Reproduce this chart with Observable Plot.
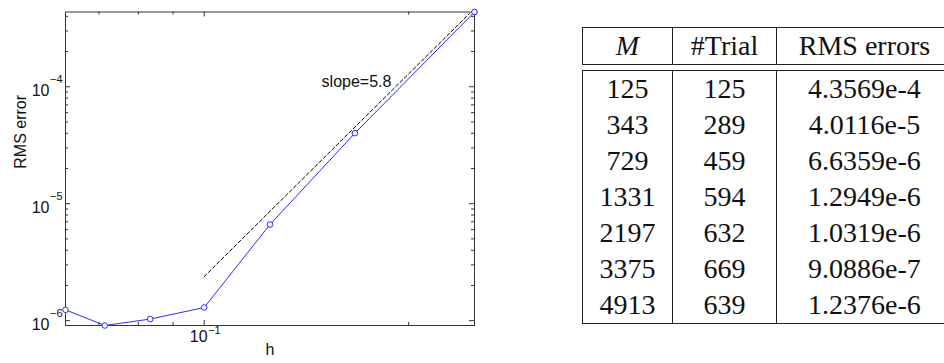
<!DOCTYPE html>
<html><head><meta charset="utf-8">
<script src="https://cdn.jsdelivr.net/npm/d3@7"></script>
<script src="https://cdn.jsdelivr.net/npm/@observablehq/plot@0.6"></script>
<style>
html,body{margin:0;padding:0;background:#fff;width:944px;height:363px;overflow:hidden;}
#wrap{position:relative;width:944px;height:363px;overflow:hidden;}
#chart{position:absolute;left:0;top:0;}
#tbl{position:absolute;left:582px;top:27px;width:371px;border-collapse:collapse;table-layout:fixed;}
#tbl td,#tbl th{font-family:"Liberation Serif","DejaVu Serif",serif;font-size:28px;color:#111;padding:0;text-align:center;font-weight:normal;border-left:1px solid #222;border-right:1px solid #222;height:36px;line-height:36px;white-space:nowrap;}
#tbl th{border-top:1px solid #222;border-bottom:1px solid #222;}
#tbl tr.gap td{border:none;height:5px;line-height:5px;}
#tbl tr.first td{border-top:1px solid #222;}
#tbl tr.last td{border-bottom:1px solid #222;}
</style></head>
<body><div id="wrap"><div id="chart"></div><table id="tbl"></table></div>
<script>
// ---- data ----
const M = [125, 343, 729, 1331, 2197, 3375, 4913];
const trials = [125, 289, 459, 594, 632, 669, 639];
const rmsLabels = ["4.3569e-4", "4.0116e-5", "6.6359e-6", "1.2949e-6", "1.0319e-6", "9.0886e-7", "1.2376e-6"];
const rmsErrors = [4.3569e-4, 4.0116e-5, 6.6359e-6, 1.2949e-6, 1.0319e-6, 9.0886e-7, 1.2376e-6];
const hValues = [0.25, 0.1667, 0.125, 0.1, 0.0833, 0.0714, 0.0625];
const tableHeaders = ["M", "#Trial", "RMS errors"];

const slopeH = [0.1, 0.2458];
const slopeErr = [2.38e-6, 4.23e-4];
const slopeLabel = "slope=5.8";
const slopeLabelH = 0.1489;
const slopeLabelErr = 1.09e-4;

const yMajor = [1e-6, 1e-5, 1e-4];
const yMajorExp = ["\u22126", "\u22125", "\u22124"];
const yMinor = [2e-6,3e-6,4e-6,5e-6,6e-6,7e-6,8e-6,9e-6,2e-5,3e-5,4e-5,5e-5,6e-5,7e-5,8e-5,9e-5,2e-4,3e-4,4e-4];
const xMajor = [0.1];
const xMajorExp = ["\u22121"];
const xMinor = [0.07, 0.08, 0.09, 0.2];
const xLabel = "h";
const yLabel = "RMS error";

// ---- chart ----
const W = 480, H = 363, mL = 65, mR = 6, mT = 11.5, mB = 38;
const iw = W - mL - mR, ih = H - mT - mB;
const axisColor = "#333";
const lineColor = "#2a2aff";
const FS = 16, FSX = 11;
const data = hValues.map((v, i) => ({h: v, err: rmsErrors[i]}));
const slopeData = slopeH.map((v, i) => ({h: v, err: slopeErr[i]}));
const majorLen = 5, minorLen = 3;

const chart = Plot.plot({
  width: W, height: H,
  marginLeft: mL, marginRight: mR, marginTop: mT, marginBottom: mB,
  x: {type: "log", domain: d3.extent(hValues), axis: null},
  y: {type: "log", domain: d3.extent(rmsErrors), axis: null},
  style: {fontFamily: "'Liberation Sans', Arial, sans-serif", background: "white", color: "#111"},
  marks: [
    Plot.tickY(yMajor, {y: d => d, insetRight: iw - majorLen, stroke: axisColor}),
    Plot.tickY(yMajor, {y: d => d, insetLeft: iw - majorLen, stroke: axisColor}),
    Plot.tickY(yMinor, {y: d => d, insetRight: iw - minorLen, stroke: axisColor}),
    Plot.tickY(yMinor, {y: d => d, insetLeft: iw - minorLen, stroke: axisColor}),
    Plot.tickX(xMajor, {x: d => d, insetTop: ih - majorLen, stroke: axisColor}),
    Plot.tickX(xMajor, {x: d => d, insetBottom: ih - majorLen, stroke: axisColor}),
    Plot.tickX(xMinor, {x: d => d, insetTop: ih - minorLen, stroke: axisColor}),
    Plot.tickX(xMinor, {x: d => d, insetBottom: ih - minorLen, stroke: axisColor}),
    Plot.frame({stroke: axisColor}),
    Plot.line(slopeData, {x: "h", y: "err", stroke: "black", strokeWidth: 1, strokeDasharray: "3.5,2.5"}),
    Plot.text([slopeLabel], {x: () => slopeLabelH, y: () => slopeLabelErr, text: d => d, textAnchor: "start", fontSize: FS, fill: "#111"}),
    Plot.line(data, {x: "h", y: "err", stroke: lineColor, strokeWidth: 1}),
    Plot.dot(data, {x: "h", y: "err", r: 2.8, stroke: lineColor, strokeWidth: 1, fill: "white"}),
    Plot.text(yMajor, {y: d => d, frameAnchor: "left", text: () => "10", textAnchor: "end", dx: -16, dy: 4, fontSize: FS, fill: "#111"}),
    Plot.text(yMajor, {y: d => d, frameAnchor: "left", text: (d, i) => yMajorExp[i], textAnchor: "end", dx: -3, dy: -7.5, fontSize: FSX, fill: "#111"}),
    Plot.text(xMajor, {x: d => d, frameAnchor: "bottom", text: () => "10", textAnchor: "end", dx: 3.5, dy: 16, fontSize: FS, fill: "#111"}),
    Plot.text(xMajor, {x: d => d, frameAnchor: "bottom", text: (d, i) => xMajorExp[i], textAnchor: "start", dx: 4, dy: 8, fontSize: FSX, fill: "#111"}),
    Plot.text([xLabel], {frameAnchor: "bottom", text: d => d, dy: 29.5, fontSize: FS, fill: "#111"}),
    Plot.text([yLabel], {frameAnchor: "left", text: d => d, rotate: -90, dx: -45, fontSize: FS, fill: "#111"})
  ]
});
document.getElementById("chart").appendChild(chart);

// ---- table ----
const tbl = document.getElementById("tbl");
const colWidths = [90, 104, 176];
let html = "<colgroup>" + colWidths.map(w => `<col style="width:${w}px">`).join("") + "</colgroup>";
html += "<thead><tr>" + tableHeaders.map((t, i) => `<th>${i === 0 ? "<i>" + t + "</i>" : t}</th>`).join("") + "</tr></thead>";
html += "<tbody><tr class='gap'><td colspan='3'></td></tr>";
M.forEach((m, i) => {
  const cls = i === 0 ? "first" : (i === M.length - 1 ? "last" : "");
  html += `<tr class="${cls}"><td>${m}</td><td>${trials[i]}</td><td>${rmsLabels[i]}</td></tr>`;
});
html += "</tbody>";
tbl.innerHTML = html;
</script>
</body></html>
